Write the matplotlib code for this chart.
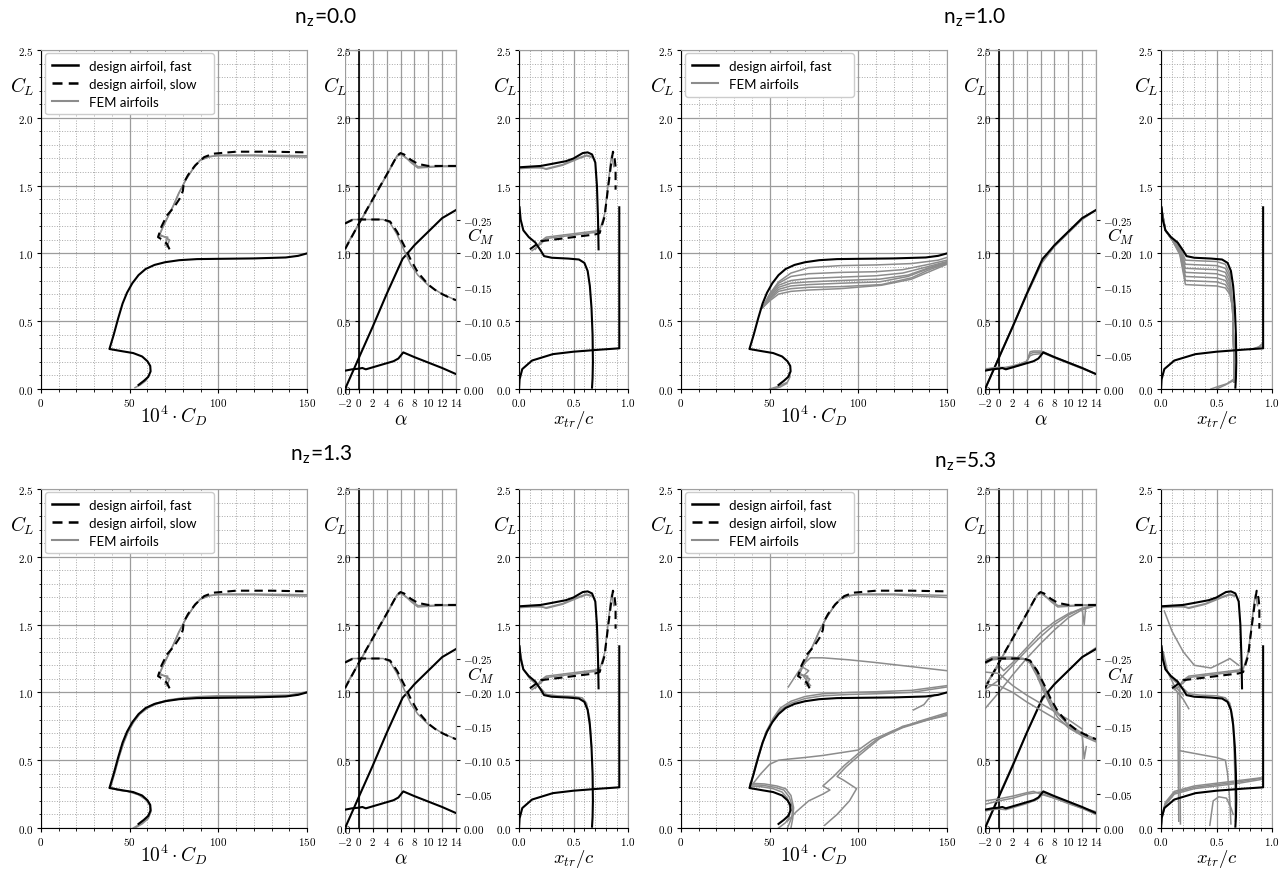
import matplotlib
matplotlib.use('Agg')
import matplotlib.pyplot as plt
from matplotlib.ticker import MultipleLocator, FixedLocator
from matplotlib.lines import Line2D

plt.rcParams['font.family'] = 'cmr10'
plt.rcParams['mathtext.fontset'] = 'cm'
plt.rcParams['axes.formatter.use_mathtext'] = True

# ---------------- data: design airfoil (same in all panels) ----------------
FAST_POLAR_CD = [55, 58, 60.5, 61.8, 61.6, 60, 57, 52, 46, 38.6, 41, 43.5, 46, 48.5, 51.5, 55, 59, 64, 70, 78, 88, 100, 120, 138, 145, 150]
FAST_POLAR_CL = [0.03, 0.06, 0.09, 0.13, 0.17, 0.205, 0.24, 0.265, 0.278, 0.295, 0.40, 0.52, 0.63, 0.71, 0.78, 0.84, 0.885, 0.915, 0.935, 0.95, 0.958, 0.96, 0.963, 0.97, 0.982, 1.0]
SLOW_POLAR_CD = [72.5, 71, 68.5, 66, 68, 71, 75, 78, 80, 80.5, 83, 87, 92, 97, 110, 130, 150]
SLOW_POLAR_CL = [1.03, 1.07, 1.10, 1.12, 1.2, 1.28, 1.34, 1.40, 1.46, 1.52, 1.58, 1.65, 1.71, 1.735, 1.75, 1.75, 1.745]

FAST_ALPHA = [-1.9, 0, 2, 4, 6.3, 7, 8, 9, 10, 11, 12, 13, 14]
FAST_CL_A = [0.01, 0.23, 0.46, 0.70, 0.96, 1.0, 1.06, 1.11, 1.16, 1.21, 1.26, 1.29, 1.32]
FAST_CM_ALPHA = [-2, -1, 0, 0.5, 1, 2, 3, 4, 5, 5.7, 6.4, 8, 10, 12, 14]
FAST_CM = [-0.027, -0.029, -0.030, -0.031, -0.029, -0.032, -0.035, -0.038, -0.041, -0.045, -0.054, -0.047, -0.039, -0.031, -0.022]
SLOW_ALPHA = [-2, 0, 2, 4, 5.5, 6, 6.5, 7.5, 8.5, 10, 12, 14]
SLOW_CL_A = [1.03, 1.22, 1.40, 1.58, 1.72, 1.74, 1.73, 1.69, 1.66, 1.645, 1.645, 1.645]
SLOW_CM_ALPHA = [-2, -1, 0, 2, 3.5, 4.5, 5.5, 6.5, 7.5, 8.5, 10, 11, 12, 13, 14]
SLOW_CM = [-0.244, -0.249, -0.25, -0.25, -0.25, -0.247, -0.232, -0.212, -0.19, -0.172, -0.154, -0.146, -0.14, -0.135, -0.131]

FAST_XTR_UP = [0.005, 0.015, 0.04, 0.09, 0.15, 0.2, 0.23, 0.3, 0.45, 0.55, 0.6, 0.63, 0.65, 0.665, 0.675, 0.678, 0.675, 0.67]
FAST_XTR_UP_CL = [1.34, 1.25, 1.17, 1.12, 1.08, 1.02, 0.98, 0.968, 0.962, 0.955, 0.93, 0.87, 0.76, 0.6, 0.4, 0.2, 0.08, 0.01]
FAST_XTR_LO = [0.0, 0.005, 0.03, 0.12, 0.31, 0.5, 0.74, 0.92, 0.92]
FAST_XTR_LO_CL = [0.0, 0.07, 0.147, 0.21, 0.257, 0.275, 0.29, 0.30, 1.34]
SLOW_XTR_UP = [0.0, 0.0, 0.1, 0.2, 0.3, 0.43, 0.5, 0.585, 0.63, 0.67, 0.70, 0.715, 0.725, 0.73]
SLOW_XTR_UP_CL = [1.45, 1.635, 1.64, 1.645, 1.66, 1.68, 1.70, 1.74, 1.745, 1.73, 1.67, 1.5, 1.25, 1.03]
SLOW_XTR_LO = [0.10, 0.15, 0.2, 0.3, 0.45, 0.6, 0.7, 0.74, 0.785, 0.815, 0.846, 0.862, 0.877, 0.886, 0.886]
SLOW_XTR_LO_CL = [1.03, 1.06, 1.09, 1.10, 1.115, 1.13, 1.14, 1.15, 1.27, 1.47, 1.667, 1.75, 1.70, 1.64, 1.47]

# ---------------- data: FEM airfoils per load factor ----------------
# each entry: (x values, y values)
NZ00_FEM_POLAR = [
    ([53, 56, 59, 60.5], [0.01, 0.03, 0.06, 0.09]),
    ([71, 72.5, 67, 69, 72, 75, 78, 82, 86, 90, 95, 100, 120, 150], [1.05, 1.10, 1.14, 1.2, 1.28, 1.36, 1.45, 1.55, 1.63, 1.69, 1.715, 1.72, 1.72, 1.71]),
    ([70, 71.5, 66.5, 68.5, 71.5, 74.5, 77.5, 81.5, 85.5, 89.5, 94.5, 100, 120, 150], [1.06, 1.12, 1.13, 1.19, 1.27, 1.35, 1.44, 1.54, 1.62, 1.685, 1.71, 1.725, 1.725, 1.72]),
]
NZ00_FEM_CL_A = [
    ([-2, 0, 2, 4, 5.5, 6, 6.5, 7.5, 8.5, 10, 12, 14], [1.04, 1.22, 1.40, 1.58, 1.72, 1.735, 1.72, 1.67, 1.63, 1.635, 1.64, 1.64]),
    ([-2, 0, 2, 4, 5.5, 6, 6.5, 7.5, 8.5, 10, 12, 14], [1.035, 1.215, 1.395, 1.575, 1.715, 1.73, 1.715, 1.68, 1.64, 1.64, 1.645, 1.645]),
]
NZ00_FEM_CM = [
    ([-2, -1, 0, 2, 3.5, 4.5, 5.5, 6.5, 7.5, 8.5, 10, 12, 14], [-0.245, -0.25, -0.25, -0.25, -0.25, -0.245, -0.228, -0.205, -0.183, -0.168, -0.153, -0.14, -0.131]),
]
NZ00_FEM_XTR = [
    ([0.0, 0.1, 0.2, 0.25, 0.4, 0.55, 0.62, 0.66], [1.625, 1.63, 1.635, 1.62, 1.65, 1.70, 1.72, 1.71]),
    ([0.0, 0.1, 0.2, 0.25, 0.4, 0.55, 0.62, 0.66], [1.63, 1.635, 1.63, 1.625, 1.655, 1.705, 1.725, 1.715]),
    ([0.12, 0.2, 0.25, 0.4, 0.55, 0.7, 0.74, 0.785, 0.815, 0.84, 0.85, 0.86, 0.87], [1.02, 1.07, 1.11, 1.125, 1.14, 1.155, 1.17, 1.29, 1.49, 1.67, 1.72, 1.68, 1.64]),
    ([0.15, 0.2, 0.25, 0.4, 0.55, 0.7, 0.74], [1.03, 1.09, 1.12, 1.135, 1.15, 1.165, 1.18]),
]

NZ10_FEM_POLAR = [
    ([50, 55, 60, 61.5, 61], [0.0, 0.02, 0.05, 0.09, 0.12]),
    ([52, 56, 59.5], [0.0, 0.015, 0.04]),
    ([46, 50, 55, 62, 72, 90, 110, 130, 145, 150], [0.60, 0.70, 0.79, 0.855, 0.895, 0.91, 0.915, 0.925, 0.95, 0.97]),
    ([46, 50, 55, 62, 72, 90, 110, 125, 140, 150], [0.60, 0.70, 0.78, 0.83, 0.85, 0.86, 0.865, 0.88, 0.92, 0.95]),
    ([46, 50, 55, 62, 72, 90, 110, 125, 140, 150], [0.60, 0.69, 0.765, 0.80, 0.815, 0.825, 0.835, 0.855, 0.905, 0.94]),
    ([46, 50, 55, 62, 72, 90, 112, 128, 140, 150], [0.60, 0.68, 0.75, 0.78, 0.79, 0.80, 0.81, 0.84, 0.895, 0.935]),
    ([46, 50, 55, 62, 72, 90, 112, 128, 140, 150], [0.60, 0.67, 0.735, 0.76, 0.77, 0.78, 0.79, 0.83, 0.89, 0.93]),
    ([46, 50, 55, 62, 72, 90, 113, 130, 140, 150], [0.60, 0.66, 0.72, 0.74, 0.75, 0.755, 0.77, 0.82, 0.88, 0.925]),
    ([46, 50, 55, 62, 72, 90, 113, 130, 150], [0.60, 0.65, 0.70, 0.72, 0.73, 0.74, 0.765, 0.81, 0.92]),
]
NZ10_FEM_CL_A = [
    ([-1.9, 0, 2, 4, 6.2, 8, 10, 12, 14], [0.01, 0.23, 0.46, 0.69, 0.93, 1.05, 1.15, 1.25, 1.32]),
    ([-1.9, 0, 2, 4, 6.0, 8, 10, 12, 14], [0.01, 0.235, 0.465, 0.695, 0.92, 1.06, 1.16, 1.255, 1.32]),
]
NZ10_FEM_CM = [
    ([-2, -1, 0, 1, 2, 3, 4, 4.5, 5, 6, 6.4, 8, 10, 12, 14], [-0.029, -0.031, -0.032, -0.031, -0.033, -0.036, -0.040, -0.052, -0.054, -0.054, -0.054, -0.047, -0.039, -0.031, -0.022]),
    ([-2, -1, 0, 1, 2, 3, 4, 4.5, 5, 6, 6.4, 8, 10, 12, 14], [-0.030, -0.030, -0.031, -0.032, -0.034, -0.037, -0.041, -0.049, -0.051, -0.052, -0.053, -0.046, -0.038, -0.030, -0.022]),
    ([-2, -1, 0, 1, 2, 3, 4, 4.5, 5, 6, 6.4, 8, 10, 12, 14], [-0.028, -0.029, -0.031, -0.030, -0.032, -0.035, -0.039, -0.055, -0.056, -0.056, -0.055, -0.047, -0.039, -0.031, -0.022]),
]
NZ10_FEM_XTR = [
    ([0.005, 0.04, 0.1, 0.17, 0.22, 0.35, 0.5, 0.58, 0.62, 0.645, 0.655, 0.66], [1.33, 1.17, 1.10, 1.05, 0.95, 0.945, 0.94, 0.92, 0.85, 0.6, 0.3, 0.05]),
    ([0.005, 0.04, 0.1, 0.17, 0.22, 0.35, 0.5, 0.58, 0.62, 0.645, 0.655, 0.66], [1.33, 1.17, 1.10, 1.04, 0.92, 0.915, 0.91, 0.89, 0.82, 0.6, 0.3, 0.05]),
    ([0.005, 0.04, 0.1, 0.17, 0.22, 0.35, 0.5, 0.58, 0.62, 0.645, 0.655, 0.66], [1.33, 1.17, 1.10, 1.03, 0.89, 0.885, 0.88, 0.86, 0.79, 0.6, 0.3, 0.05]),
    ([0.005, 0.04, 0.1, 0.17, 0.22, 0.35, 0.5, 0.58, 0.62, 0.645, 0.655, 0.66], [1.33, 1.17, 1.10, 1.02, 0.86, 0.855, 0.85, 0.83, 0.76, 0.6, 0.3, 0.05]),
    ([0.005, 0.04, 0.1, 0.17, 0.22, 0.35, 0.5, 0.58, 0.62, 0.645, 0.655, 0.66], [1.33, 1.17, 1.10, 1.01, 0.83, 0.825, 0.82, 0.80, 0.74, 0.6, 0.3, 0.05]),
    ([0.005, 0.04, 0.1, 0.17, 0.22, 0.35, 0.5, 0.58, 0.62, 0.645, 0.655, 0.66], [1.33, 1.17, 1.10, 1.00, 0.80, 0.795, 0.79, 0.77, 0.72, 0.6, 0.3, 0.05]),
    ([0.005, 0.04, 0.1, 0.17, 0.22, 0.35, 0.5, 0.58, 0.62, 0.645, 0.655, 0.66], [1.33, 1.17, 1.10, 0.99, 0.77, 0.765, 0.76, 0.745, 0.70, 0.6, 0.3, 0.05]),
    ([0.45, 0.52, 0.6, 0.65], [0.0, 0.02, 0.04, 0.06]),
    ([0.5, 0.58, 0.65], [0.0, 0.03, 0.07]),
    ([0.8, 0.88, 0.92], [0.29, 0.31, 0.34]),
    ([0.85, 0.92], [0.30, 0.32]),
]

NZ13_FEM_POLAR = [
    ([52, 56, 60, 61.7, 61.2, 59, 55, 49, 43, 39, 41.5, 44, 46.5, 49, 52, 55.5, 60, 65, 72, 80, 90, 100, 120, 140, 150], [0.0, 0.03, 0.07, 0.12, 0.17, 0.21, 0.245, 0.27, 0.28, 0.3, 0.41, 0.53, 0.63, 0.71, 0.78, 0.84, 0.89, 0.92, 0.945, 0.96, 0.97, 0.975, 0.975, 0.98, 1.005]),
    ([53, 57, 60.5, 62, 61.5, 59.5, 55.5, 49.5, 43.5, 39.2, 41.7, 44.2, 46.7, 49.2, 52.2, 55.7, 60.2, 65.2, 72, 80, 90, 100, 120, 140, 150], [0.0, 0.03, 0.07, 0.12, 0.17, 0.21, 0.245, 0.27, 0.28, 0.3, 0.41, 0.53, 0.63, 0.71, 0.78, 0.84, 0.885, 0.915, 0.94, 0.955, 0.965, 0.97, 0.97, 0.975, 1.0]),
    ([71, 72.5, 67, 69, 72, 75, 78, 82, 86, 90, 95, 100, 120, 150], [1.05, 1.10, 1.14, 1.2, 1.28, 1.36, 1.45, 1.55, 1.63, 1.69, 1.715, 1.72, 1.72, 1.71]),
    ([70, 71.5, 66.5, 68.5, 71.5, 74.5, 77.5, 81.5, 85.5, 89.5, 94.5, 100, 120, 150], [1.06, 1.12, 1.13, 1.19, 1.27, 1.35, 1.44, 1.54, 1.62, 1.685, 1.71, 1.725, 1.725, 1.72]),
]
NZ13_FEM_CL_A = NZ00_FEM_CL_A
NZ13_FEM_CM = NZ00_FEM_CM
NZ13_FEM_XTR = NZ00_FEM_XTR + [
    ([0.005, 0.04, 0.1, 0.2, 0.25, 0.35, 0.5, 0.58, 0.62, 0.65, 0.665], [1.33, 1.17, 1.10, 1.03, 0.985, 0.975, 0.97, 0.96, 0.92, 0.8, 0.6]),
]

NZ53_FEM_POLAR = [
    ([39, 42, 45, 48, 52, 56, 62, 70, 80, 95, 110, 130, 150], [0.31, 0.45, 0.58, 0.70, 0.80, 0.87, 0.92, 0.955, 0.975, 0.985, 0.99, 1.0, 1.04]),
    ([39, 42, 45, 48, 52, 56, 62, 70, 80, 95, 110, 130, 150], [0.31, 0.46, 0.59, 0.71, 0.81, 0.885, 0.935, 0.97, 0.99, 1.0, 1.005, 1.015, 1.05]),
    ([39, 45, 52, 57, 60, 61.5, 61, 59, 57, 55], [0.31, 0.305, 0.29, 0.265, 0.22, 0.15, 0.08, 0.04, 0.02, 0.0]),
    ([39, 46, 53, 58, 61, 63, 62.5, 61, 60], [0.32, 0.315, 0.30, 0.28, 0.23, 0.15, 0.08, 0.03, 0.0]),
    ([39, 47, 54, 59, 62, 63.5, 63, 62], [0.33, 0.325, 0.31, 0.29, 0.24, 0.15, 0.07, 0.0]),
    ([71, 72.5, 67, 69, 72, 75, 78, 82, 86, 90, 95, 100, 120, 150], [1.05, 1.10, 1.14, 1.2, 1.28, 1.36, 1.45, 1.55, 1.63, 1.69, 1.715, 1.72, 1.72, 1.70]),
    ([70, 71.5, 66.5, 68.5, 71.5, 74.5, 77.5, 81.5, 85.5, 89.5, 94.5, 100, 120, 150], [1.06, 1.12, 1.13, 1.19, 1.27, 1.35, 1.44, 1.54, 1.62, 1.685, 1.71, 1.725, 1.725, 1.715]),
    ([73, 69, 72, 68, 70], [1.05, 1.12, 1.16, 1.19, 1.22]),
    ([60.5, 66, 70, 73, 80, 95, 110, 130, 150], [1.04, 1.15, 1.22, 1.255, 1.255, 1.24, 1.22, 1.19, 1.16]),
    ([39, 45, 50, 55, 62, 70, 80, 90, 100, 108, 120, 135, 150], [0.30, 0.40, 0.47, 0.50, 0.51, 0.52, 0.535, 0.555, 0.575, 0.65, 0.72, 0.79, 0.85]),
    ([60, 65, 72, 80, 84, 80, 86, 92, 100, 110, 125, 140, 150], [0.05, 0.12, 0.2, 0.25, 0.28, 0.31, 0.38, 0.46, 0.55, 0.65, 0.74, 0.80, 0.84]),
    ([81, 88, 95, 99, 92, 88, 93, 100, 112, 125, 140, 150], [0.02, 0.1, 0.2, 0.29, 0.35, 0.38, 0.45, 0.53, 0.66, 0.75, 0.80, 0.83]),
    ([131, 137, 140, 143], [0.87, 0.91, 0.96, 0.98]),
]
NZ53_FEM_CL_A = NZ00_FEM_CL_A + [
    ([-1.9, 0, 2, 4, 6.2, 8, 10, 12, 14], [0.02, 0.24, 0.47, 0.70, 0.94, 1.06, 1.16, 1.26, 1.33]),
    ([-2, 0, 2, 4, 6, 8, 10, 12, 14], [0.88, 1.0, 1.13, 1.25, 1.36, 1.46, 1.55, 1.61, 1.64]),
    ([-2, 0, 0.7, 2, 4, 6, 8, 10, 12, 12.3, 12.5, 14], [1.05, 1.2, 1.16, 1.22, 1.33, 1.44, 1.52, 1.58, 1.62, 1.5, 1.62, 1.64]),
    ([-2, 0, 2, 4, 6, 8, 10, 12, 14], [1.02, 1.09, 1.2, 1.31, 1.41, 1.5, 1.57, 1.62, 1.645]),
]
NZ53_FEM_CM = NZ00_FEM_CM + [
    ([-2, -1, 0, 2, 3.5, 4.5, 5.5, 6.5, 7.5, 8.5, 10, 12, 14], [-0.247, -0.252, -0.252, -0.252, -0.25, -0.243, -0.224, -0.2, -0.179, -0.163, -0.148, -0.136, -0.127]),
    ([-2, -1, 0, 2, 3.5, 4.5, 5.5, 6.5, 7.5, 8.5, 10, 12, 14], [-0.242, -0.248, -0.249, -0.249, -0.249, -0.246, -0.233, -0.21, -0.188, -0.17, -0.151, -0.138, -0.129]),
    ([-2, 0, 2, 4, 6, 8, 10, 12], [-0.23, -0.228, -0.21, -0.196, -0.184, -0.172, -0.16, -0.146]),
    ([-2, 0, 2, 4, 6, 8, 10, 12, 12.3, 12.6], [-0.212, -0.21, -0.2, -0.186, -0.174, -0.162, -0.15, -0.138, -0.102, -0.12]),
    ([-2, 0, 2, 4, 6, 6.5, 8, 10, 12, 14], [-0.035, -0.04, -0.044, -0.05, -0.053, -0.052, -0.046, -0.038, -0.03, -0.024]),
    ([-2, 0, 2, 4, 5, 6, 8, 10, 12, 14], [-0.04, -0.043, -0.047, -0.052, -0.054, -0.05, -0.044, -0.036, -0.029, -0.022]),
    ([-2, -1, 0, 1, 2, 4, 5.5, 6.4, 8, 10, 12, 14], [-0.025, -0.027, -0.028, -0.027, -0.03, -0.036, -0.042, -0.05, -0.044, -0.037, -0.029, -0.02]),
]
NZ53_FEM_XTR = NZ00_FEM_XTR + [
    ([0.0, 0.01, 0.04, 0.12, 0.3, 0.5, 0.7, 0.92], [0.0, 0.08, 0.17, 0.25, 0.29, 0.31, 0.33, 0.36]),
    ([0.0, 0.01, 0.04, 0.12, 0.3, 0.5, 0.7, 0.92], [0.0, 0.09, 0.18, 0.26, 0.30, 0.32, 0.34, 0.37]),
    ([0.0, 0.01, 0.04, 0.12, 0.3, 0.5, 0.7, 0.9], [0.0, 0.1, 0.19, 0.27, 0.31, 0.33, 0.35, 0.37]),
    ([0.005, 0.04, 0.1, 0.2, 0.25, 0.35, 0.5, 0.58, 0.62, 0.65, 0.665, 0.67], [1.33, 1.17, 1.10, 1.03, 0.99, 0.98, 0.975, 0.96, 0.92, 0.8, 0.4, 0.05]),
    ([0.17, 0.17, 0.175], [1.05, 0.5, 0.03]),
    ([0.15, 0.155, 0.16], [1.0, 0.55, 0.05]),
    ([0.17, 0.3, 0.5, 0.58, 0.6, 0.62, 0.63], [0.57, 0.55, 0.52, 0.5, 0.4, 0.2, 0.03]),
    ([0.44, 0.47, 0.52, 0.59, 0.63, 0.65], [0.02, 0.2, 0.23, 0.22, 0.15, 0.1]),
    ([0.03, 0.1, 0.2, 0.3, 0.45, 0.55, 0.62, 0.7], [1.6, 1.45, 1.3, 1.2, 1.18, 1.22, 1.25, 1.2]),
    ([0.1, 0.2, 0.25], [1.05, 0.95, 0.88]),
    ([0.02, 0.06, 0.12, 0.2], [1.3, 1.15, 1.05, 0.98]),
]

PANELS = [
    dict(title='0.0', row=0, col=0, slow=True, polar=NZ00_FEM_POLAR, cla=NZ00_FEM_CL_A, cm=NZ00_FEM_CM, xtr=NZ00_FEM_XTR),
    dict(title='1.0', row=0, col=1, slow=False, polar=NZ10_FEM_POLAR, cla=NZ10_FEM_CL_A, cm=NZ10_FEM_CM, xtr=NZ10_FEM_XTR),
    dict(title='1.3', row=1, col=0, slow=True, polar=NZ13_FEM_POLAR, cla=NZ13_FEM_CL_A, cm=NZ13_FEM_CM, xtr=NZ13_FEM_XTR),
    dict(title='5.3', row=1, col=1, slow=True, polar=NZ53_FEM_POLAR, cla=NZ53_FEM_CL_A, cm=NZ53_FEM_CM, xtr=NZ53_FEM_XTR),
]
TITLE_POS = {(0, 0): (326, 18), (0, 1): (975, 18), (1, 0): (321, 455), (1, 1): (965, 462)}

# ---------------- styling ----------------
W, H = 1288, 870
GRAY = '#8c8c8c'
BLK_LW = 1.5
GRY_LW = 1.1
SANS = ['Lato', 'DejaVu Sans']
TICK_KW = dict(labelsize=8, direction='out', length=3, width=0.8, pad=2)

fig = plt.figure(figsize=(W / 100, H / 100), dpi=100)


def fr(x0, x1, y_top, y_bot):
    return [x0 / W, 1 - y_bot / H, (x1 - x0) / W, (y_bot - y_top) / H]


ROW_Y = [(51, 390), (490, 829)]
COL_X = [
    [(41, 307), (345, 456), (519, 628)],
    [(681, 947), (985, 1096), (1161, 1272)],
]


def base_style(ax):
    ax.set_ylim(0, 2.5)
    ax.yaxis.set_major_locator(MultipleLocator(0.5))
    ax.yaxis.set_minor_locator(MultipleLocator(0.1))
    ax.grid(True, which='major', color='#9c9c9c', lw=0.9, ls='-')
    ax.tick_params(**TICK_KW)
    ax.tick_params(which='minor', length=1.8, width=0.6)
    for s in ['top', 'right']:
        ax.spines[s].set_color('#a0a0a0')
    ax.set_axisbelow(True)


def ylabel_cl(ax, xf):
    ax.set_ylabel(r'$C_L$', rotation=0, fontsize=14, ha='center', va='center')
    ax.yaxis.set_label_coords(xf, 0.895)


def draw_fem(ax, curves):
    for xs, ys in curves:
        ax.plot(xs, ys, color=GRAY, lw=GRY_LW, zorder=2)


for p in PANELS:
    r, c = p['row'], p['col']
    yt, yb = ROW_Y[r]
    (px0, px1), (ax0, ax1), (xx0, xx1) = COL_X[c]

    # ---- polar ----
    ax = fig.add_axes(fr(px0, px1, yt, yb))
    base_style(ax)
    ax.set_xlim(0, 150)
    ax.xaxis.set_major_locator(MultipleLocator(50))
    ax.xaxis.set_minor_locator(MultipleLocator(10))
    ax.grid(True, which='minor', color='#a8a8a8', lw=0.7, ls=':')
    draw_fem(ax, p['polar'])
    ax.plot(FAST_POLAR_CD, FAST_POLAR_CL, color='black', lw=BLK_LW, zorder=3)
    if p['slow']:
        ax.plot(SLOW_POLAR_CD, SLOW_POLAR_CL, color='black', lw=BLK_LW, ls=(0, (4, 2.5)), zorder=3)
    ax.set_xlabel(r'$10^4 \cdot C_D$', fontsize=14, labelpad=-4)
    ylabel_cl(ax, -0.072)
    handles = [Line2D([], [], color='black', lw=BLK_LW + 0.3, label='design airfoil, fast')]
    if p['slow']:
        handles.append(Line2D([], [], color='black', lw=BLK_LW + 0.3, ls=(0, (4, 2.5)), label='design airfoil, slow'))
    handles.append(Line2D([], [], color=GRAY, lw=GRY_LW + 0.4, label='FEM airfoils'))
    leg = ax.legend(handles=handles, loc='upper left', bbox_to_anchor=(0.015, 0.99, 0.635, 0.0),
                    mode='expand', prop={'family': SANS, 'size': 9.5},
                    framealpha=1, fancybox=True, edgecolor='#cccccc', handlelength=2.0,
                    handletextpad=0.8, labelspacing=0.45, borderaxespad=0.0, borderpad=0.5)
    leg.set_zorder(10)

    # ---- alpha ----
    ax = fig.add_axes(fr(ax0, ax1, yt, yb))
    base_style(ax)
    ax.set_xlim(-2, 14)
    ax.xaxis.set_major_locator(FixedLocator(list(range(-2, 15, 2))))
    ax.grid(True, which='minor', axis='y', color='#a8a8a8', lw=0.7, ls=':')
    ax.spines['left'].set_position(('data', 0))
    ax.spines['left'].set_linewidth(1.2)
    draw_fem(ax, p['cla'])
    ax.plot(FAST_ALPHA, FAST_CL_A, color='black', lw=BLK_LW, zorder=3)
    if p['slow']:
        ax.plot(SLOW_ALPHA, SLOW_CL_A, color='black', lw=BLK_LW, ls=(0, (4, 2.5)), zorder=3)
    ax.set_xlabel(r'$\alpha$', fontsize=14, labelpad=2)
    ylabel_cl(ax, -0.085)
    ax2 = ax.twinx()
    ax2.set_ylim(0, -0.5)
    ax2.yaxis.set_major_locator(FixedLocator([0.0, -0.05, -0.10, -0.15, -0.20, -0.25]))
    ax2.tick_params(**TICK_KW)
    ax2.spines['left'].set_visible(False)
    for s in ['top', 'right']:
        ax2.spines[s].set_color('#a0a0a0')
    draw_fem(ax2, p['cm'])
    ax2.plot(FAST_CM_ALPHA, FAST_CM, color='black', lw=BLK_LW, zorder=3)
    if p['slow']:
        ax2.plot(SLOW_CM_ALPHA, SLOW_CM, color='black', lw=BLK_LW, ls=(0, (4, 2.5)), zorder=3)
    ax2.set_ylabel(r'$C_M$', rotation=0, fontsize=13, ha='center', va='center')
    ax2.yaxis.set_label_coords(1.23, 0.452)

    # ---- transition ----
    ax = fig.add_axes(fr(xx0, xx1, yt, yb))
    base_style(ax)
    ax.set_xlim(0, 1)
    ax.xaxis.set_major_locator(MultipleLocator(0.5))
    ax.xaxis.set_minor_locator(MultipleLocator(0.1))
    ax.grid(True, which='minor', color='#a8a8a8', lw=0.7, ls=':')
    draw_fem(ax, p['xtr'])
    ax.plot(FAST_XTR_UP, FAST_XTR_UP_CL, color='black', lw=BLK_LW, zorder=3)
    ax.plot(FAST_XTR_LO, FAST_XTR_LO_CL, color='black', lw=BLK_LW, zorder=3)
    if p['slow']:
        ax.plot(SLOW_XTR_UP, SLOW_XTR_UP_CL, color='black', lw=BLK_LW, zorder=3)
        ax.plot(SLOW_XTR_LO, SLOW_XTR_LO_CL, color='black', lw=BLK_LW, ls=(0, (4, 2.5)), zorder=3)
    ax.set_xlabel(r'$x_{tr}/c$', fontsize=13.5, labelpad=0)
    ylabel_cl(ax, -0.13)

    tx, ty = TITLE_POS[(r, c)]
    fig.text(tx / W, 1 - ty / H, r'n$_\mathregular{z}$=' + p['title'], family=SANS,
             fontsize=15, ha='center', va='center')

fig.savefig('out.png', dpi=100)
